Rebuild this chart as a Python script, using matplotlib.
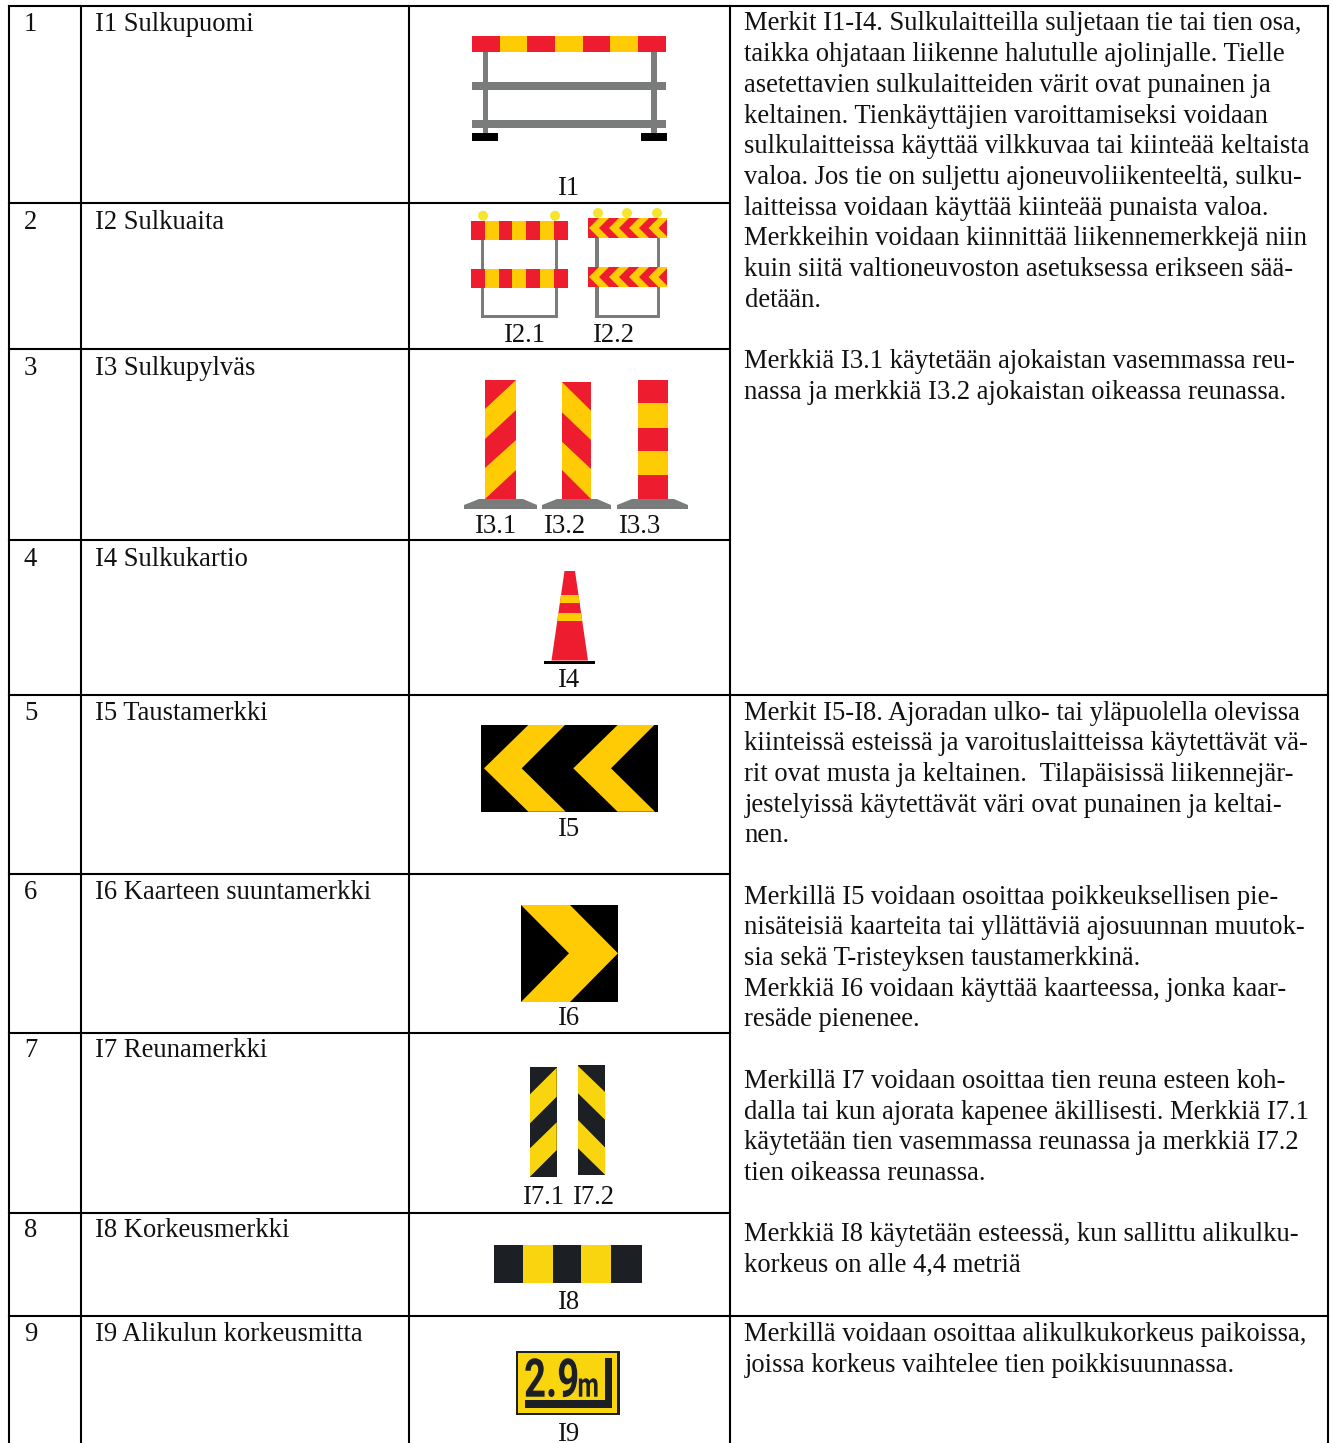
import matplotlib
matplotlib.use('Agg')
import matplotlib.pyplot as plt
from matplotlib.patches import Polygon, Rectangle, Circle
from matplotlib.patheffects import AbstractPathEffect
from matplotlib.transforms import Affine2D

plt.rcParams['font.family'] = ['Liberation Serif', 'DejaVu Serif']

numerot = ['1', '2', '3', '4', '5', '6', '7', '8', '9']
nimet = ['I1 Sulkupuomi', 'I2 Sulkuaita', 'I3 Sulkupylväs', 'I4 Sulkukartio', 'I5 Taustamerkki',
         'I6 Kaarteen suuntamerkki', 'I7 Reunamerkki', 'I8 Korkeusmerkki', 'I9 Alikulun korkeusmitta']
nimi_y = [31, 229, 375, 566, 720, 899, 1057, 1237, 1341]
rivi_y = [6, 202.5, 348.5, 540, 694.5, 873.5, 1033, 1212.5, 1315.5]
koko_leveys = [6, 694.5, 1315.5]
sarake_x = [9, 81, 409, 730, 1328]

selitys1 = ['Merkit I1-I4. Sulkulaitteilla suljetaan tie tai tien osa,',
            'taikka ohjataan liikenne halutulle ajolinjalle. Tielle',
            'asetettavien sulkulaitteiden värit ovat punainen ja',
            'keltainen. Tienkäyttäjien varoittamiseksi voidaan',
            'sulkulaitteissa käyttää vilkkuvaa tai kiinteää keltaista',
            'valoa. Jos tie on suljettu ajoneuvoliikenteeltä, sulku-',
            'laitteissa voidaan käyttää kiinteää punaista valoa.',
            'Merkkeihin voidaan kiinnittää liikennemerkkejä niin',
            'kuin siitä valtioneuvoston asetuksessa erikseen sää-',
            'detään.',
            '',
            'Merkkiä I3.1 käytetään ajokaistan vasemmassa reu-',
            'nassa ja merkkiä I3.2 ajokaistan oikeassa reunassa.']
selitys2 = ['Merkit I5-I8. Ajoradan ulko- tai yläpuolella olevissa',
            'kiinteissä esteissä ja varoituslaitteissa käytettävät vä-',
            'rit ovat musta ja keltainen.  Tilapäisissä liikennejär-',
            'jestelyissä käytettävät väri ovat punainen ja keltai-',
            'nen.',
            '',
            'Merkillä I5 voidaan osoittaa poikkeuksellisen pie-',
            'nisäteisiä kaarteita tai yllättäviä ajosuunnan muutok-',
            'sia sekä T-risteyksen taustamerkkinä.',
            'Merkkiä I6 voidaan käyttää kaarteessa, jonka kaar-',
            'resäde pienenee.',
            '',
            'Merkillä I7 voidaan osoittaa tien reuna esteen koh-',
            'dalla tai kun ajorata kapenee äkillisesti. Merkkiä I7.1',
            'käytetään tien vasemmassa reunassa ja merkkiä I7.2',
            'tien oikeassa reunassa.',
            '',
            'Merkkiä I8 käytetään esteessä, kun sallittu alikulku-',
            'korkeus on alle 4,4 metriä']
selitys3 = ['Merkillä voidaan osoittaa alikulkukorkeus paikoissa,',
            'joissa korkeus vaihtelee tien poikkisuunnassa.']

kuvatekstit = [('I1', 569, 195), ('I2.1', 524.5, 342), ('I2.2', 614, 342), ('I3.1', 496.5, 533), ('I3.2', 565.5, 533),
               ('I3.3', 640.5, 533), ('I4', 569, 687), ('I5', 569, 836), ('I6', 569, 1025), ('I7.1', 544, 1204),
               ('I7.2', 593.5, 1204), ('I8', 569, 1309), ('I9', 569, 1441)]

PUNA = '#ed1c2e'
KELTA = '#ffcb05'
HARMAA = '#7a7c7c'
MUSTA2 = '#1c1f24'
KELTA2 = '#f9d50f'
VALO = '#f6e52f'
FS = 19.2
RIVIVALI = 30.7

fig = plt.figure(figsize=(13.32, 14.43), dpi=100)
ax = fig.add_axes([0, 0, 1, 1])
ax.set_xlim(0, 1332)
ax.set_ylim(1443, 0)
ax.axis('off')


class Kapea(AbstractPathEffect):
    # kapeampi kirjain kilpeen, sopivaa kapeaa fonttia ei ole
    def __init__(self, sx):
        super().__init__()
        self.sx = sx

    def draw_path(self, renderer, gc, tpath, affine, rgbFace=None):
        renderer.draw_path(gc, tpath, Affine2D().scale(self.sx, 1) + affine, rgbFace)


def rect(x0, x1, y0, y1, c, z=2):
    return ax.add_patch(Rectangle((x0, y0), x1 - x0, y1 - y0, fc=c, ec='none', zorder=z))


def poly(pts, c, z=3):
    return ax.add_patch(Polygon(pts, closed=True, fc=c, ec='none', zorder=z))


def raidat(x0, x1, reunat, c, z=3):
    # reunat: (vasen yla, vasen ala, oikea yla, oikea ala)
    for a, b, d, e in reunat:
        poly([(x0, a), (x1, d), (x1, e), (x0, b)], c, z)


# taulukon viivat
for y in rivi_y:
    loppu = sarake_x[-1] if y in koko_leveys else sarake_x[3]
    ax.plot([sarake_x[0], loppu], [y, y], color='black', lw=1.5, zorder=5, solid_capstyle='projecting')
for x in sarake_x:
    ax.plot([x, x], [6, 1443], color='black', lw=1.5, zorder=5)

# tekstit
for n, nimi, y in zip(numerot, nimet, nimi_y):
    ax.text(24, y, n, fontsize=FS, va='baseline', color='#111111')
    ax.text(95, y, nimi, fontsize=FS, va='baseline', color='#111111')
for lista, y0 in ((selitys1, 30.5), (selitys2, 719.5), (selitys3, 1341)):
    for i, rivi in enumerate(lista):
        ax.text(744.5, y0 + i * RIVIVALI, rivi, fontsize=FS, va='baseline', color='#111111')
for teksti, x, y in kuvatekstit:
    ax.text(x, y, teksti, fontsize=FS, va='baseline', ha='center', color='#111111')

# I1
rect(482.5, 488, 52, 134, HARMAA)
rect(651, 657, 52, 134, HARMAA)
rect(472, 666, 82, 90, HARMAA, 3)
rect(472, 666, 120, 128, HARMAA, 3)
rect(472, 498, 133, 141, 'black', 3)
rect(641, 667, 133, 141, 'black', 3)
rajat = [472, 500, 527, 555, 583, 610, 638, 666]
for i in range(7):
    rect(rajat[i], rajat[i + 1], 36, 52, PUNA if i % 2 == 0 else KELTA, 3)

# I2.1
rect(481, 484, 240, 318, HARMAA)
rect(555, 558, 240, 318, HARMAA)
rect(481, 558, 315, 318, HARMAA)
rajat = [471, 485, 498.7, 512, 526, 540, 554, 568]
for y0, y1 in ((221, 240), (269, 288)):
    for i in range(7):
        rect(rajat[i], rajat[i + 1], y0, y1, PUNA if i % 2 == 0 else KELTA, 3)
for x in (483, 555):
    ax.add_patch(Circle((x, 215.7), 5, fc=VALO, ec='none', zorder=2))

# I2.2
rect(595, 598.5, 238, 318, HARMAA)
rect(657, 660, 238, 318, HARMAA)
rect(595, 660, 315, 318, HARMAA)
for y0, y1 in ((218, 238), (267, 287)):
    tausta = rect(588, 667, y0, y1, PUNA, 3)
    ym = (y0 + y1) / 2
    for x in (589, 609, 629, 648.5):
        p = poly([(x, ym), (x + 10, y0), (x + 20, y0), (x + 10, ym), (x + 20, y1), (x + 10, y1)], KELTA, 4)
        p.set_clip_path(tausta)
for x in (598, 627, 657):
    ax.add_patch(Circle((x, 213), 5, fc=VALO, ec='none', zorder=2))

# I3
for x0, x1 in ((464, 537), (542, 611), (617, 688)):
    poly([(x0, 505), (x0 + 15, 499), (x1 - 14, 499), (x1, 505), (x1, 509), (x0, 509)], HARMAA)
rect(485, 516, 380, 499, PUNA)
raidat(485, 516, [(409, 439, 380, 410), (468, 499, 440, 470)], KELTA)
rect(562, 591, 382, 499, PUNA)
raidat(562, 591, [(382, 412.3, 410.7, 440), (441.7, 470, 469, 499)], KELTA)
rect(638, 668, 380, 499, PUNA)
rect(638, 668, 403, 428, KELTA, 3)
rect(638, 668, 451, 475, KELTA, 3)

# I4
kartio = poly([(564.5, 571), (575, 571), (588, 660.5), (551.5, 660.5)], PUNA)
for y0, y1 in ((595, 603), (613, 621)):
    r = rect(540, 600, y0, y1, KELTA, 4)
    r.set_clip_path(kartio)
rect(544, 595, 660.5, 664, 'black', 3)

# I5
rect(481, 658, 725, 812, 'black')
for dx in (0, 89.3):
    poly([(484 + dx, 768.3), (528.3 + dx, 725), (565 + dx, 725), (521.7 + dx, 768.3), (565.7 + dx, 811.7),
          (528.3 + dx, 811.7)], KELTA)

# I6
rect(521, 618, 905, 1002, 'black')
poly([(521, 905), (570, 905), (618, 953.3), (570, 1002), (521, 1002), (569, 953.3)], KELTA)

# I7
rect(530, 556.7, 1067.3, 1176.7, MUSTA2)
raidat(530, 556.7, [(1094.3, 1123.3, 1067.7, 1096.7), (1148.3, 1176.7, 1122.3, 1150)], KELTA2)
rect(578, 605.3, 1065.3, 1175, MUSTA2)
raidat(578, 605.3, [(1066, 1093.3, 1092.3, 1120), (1120, 1148.3, 1147.7, 1175)], KELTA2)

# I8
rect(494.3, 641.7, 1245.3, 1282.7, MUSTA2)
rect(523.3, 553.3, 1245.3, 1282.7, KELTA2, 3)
rect(581.3, 611.3, 1245.3, 1282.7, KELTA2, 3)

# I9
rect(515.7, 619.7, 1350.7, 1415, MUSTA2)
rect(518.3, 617, 1353.3, 1412.5, KELTA2, 3)
rect(524.7, 612.3, 1400, 1408.3, MUSTA2, 4)
rect(604.7, 612.3, 1357.7, 1408.3, MUSTA2, 4)
ax.text(524, 1396.7, '2.9', fontsize=38.4, family='Roboto', fontweight='bold', color=MUSTA2, va='baseline', zorder=5,
        path_effects=[Kapea(0.72)])
ax.text(577.5, 1396.7, 'm', fontsize=24.7, family='Roboto', fontweight='bold', color=MUSTA2, va='baseline', zorder=5,
        path_effects=[Kapea(0.72)])

fig.savefig('out.png', dpi=100, facecolor='white')
